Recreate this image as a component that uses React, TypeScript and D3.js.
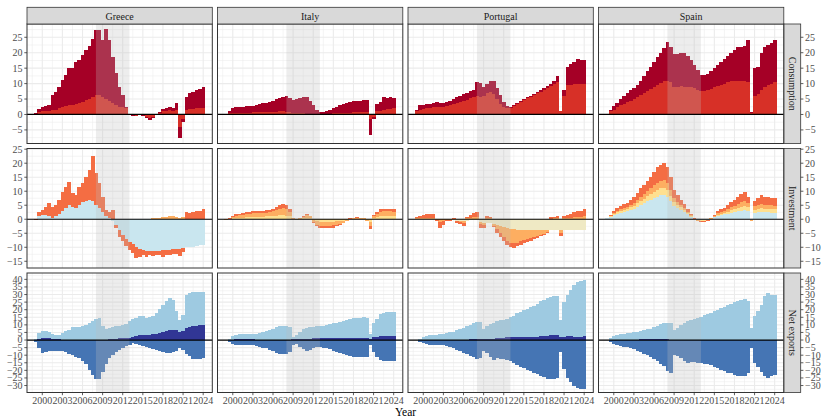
import * as d3 from "d3";

// half-year periods, 1999H1 .. 2024H1
const periods = d3.range(51).map((i) => 1999 + i * 0.5);
const countries = ["Greece", "Italy", "Portugal", "Spain"];
const facets = ["Consumption", "Investment", "Net exports"];
const yearTicks = [2000, 2003, 2006, 2009, 2012, 2015, 2018, 2021, 2024];
const recession = [2008, 2013];

// ---- consumption: total and the lower (red) component
const grcConsTotal = [0.5, 1.9, 2.5, 2.7, 3.2, 6.3, 7.4, 8.8, 11.1, 12.8, 14.9, 15.2, 17.1, 17.6, 19.3, 20.9, 22.3, 24.4, 27.2, 27.2, 24, 27.6, 24.1, 18.7, 13.3, 9, 6.3, 2.5, 0, -0.5, -0.6, -0.3, -0.5, -1.2, -1.8, -1.2, 0.3, 0.8, 1.8, 2.2, 2.5, 2.2, 3.6, -7.5, -2.5, 5.5, 7, 7.2, 7.8, 8.3, 9];
const grcConsRed = [0.3, 0.8, 1, 1, 1.2, 1.4, 1.6, 2, 2.3, 2.7, 3, 3.1, 3.5, 3.8, 4.2, 4.6, 5, 5.6, 6.3, 6.2, 5.6, 5, 4.5, 3.8, 3, 2.5, 2.3, 2, 0.3, -0.3, -0.4, -0.2, -0.3, -0.8, -1.2, -0.8, 0.2, 0.5, 1, 1.2, 1.3, 1.2, 1.5, -4, -1.5, 1.5, 1.8, 1.8, 2, 2.1, 2.2];
const itaConsTotal = [0.3, 1, 2, 2.3, 2.5, 2.5, 2.6, 2.8, 2.9, 3.2, 3.5, 3.6, 3.7, 4, 4.5, 5, 5.3, 5.8, 6, 5.3, 4.8, 5, 5.3, 5.6, 5.5, 4.5, 3, 1.5, 0.8, 0.8, 1, 1.5, 2, 2.5, 3, 3.5, 3.8, 4.1, 4.3, 4.4, 4.5, 4.6, 4.6, -6.5, -1.5, 3.5, 4, 5.5, 5.2, 5.5, 5.3];
const itaConsRed = [0.2, 0.4, 0.5, 0.6, 0.6, 0.6, 0.6, 0.6, 0.7, 0.7, 0.7, 0.7, 0.8, 0.8, 0.8, 0.9, 1, 1, 0.9, 0.8, 0.6, 0.6, 0.6, 0.5, 0.3, 0.2, 0.1, 0.1, 0.2, 0.2, 0.3, 0.3, 0.4, 0.4, 0.5, 0.5, 0.6, 0.6, 0.7, 0.7, 0.8, 0.8, 0.8, -1.5, -0.8, 1, 1.2, 1.5, 1.8, 1.9, 2];
const prtConsTotal = [1.5, 3, 3.2, 3.3, 3.5, 3.8, 4, 3.8, 3.8, 4, 4.5, 5, 5.5, 5.9, 6.5, 7, 7.5, 8, 10.5, 10.2, 8.8, 10, 11, 10.8, 8.5, 6.3, 4, 2.7, 2.3, 3, 3.8, 4.5, 5, 5.5, 6, 6.5, 7.2, 7.8, 8.5, 9.3, 10, 11, 12.5, 1, 8, 15.5, 16.5, 17, 18, 17.8, 17.8];
const prtConsRed = [1, 1.5, 1.7, 2, 2.2, 2.3, 2.4, 2.4, 2.5, 2.7, 3, 3.3, 3.6, 4, 4.4, 4.8, 5.3, 5.8, 6, 5.8, 6, 6.8, 7.3, 6.5, 5, 3.5, 2.5, 2, 2, 2.8, 3.5, 4.2, 4.7, 5.2, 5.7, 6.2, 6.8, 7.3, 8, 8.6, 9.2, 10, 10.5, 1, 6, 9.5, 9.7, 9.8, 10, 10, 10];
const espConsTotal = [0.3, 1.5, 2.8, 3.8, 5, 6, 7, 7.8, 8.5, 9.5, 11, 12.5, 14, 15.5, 17, 18.5, 20, 21.5, 23.5, 22, 19.5, 19.5, 20, 20, 19, 17.5, 16, 14.5, 12.8, 12.7, 13.2, 14, 15, 16, 17, 18, 19, 20, 21, 21.8, 22, 22.2, 24, 0.8, 15, 15.5, 20, 22, 22.5, 23, 24];
const espConsRed = [0.2, 1, 1.6, 2.3, 3, 3.5, 4, 4.5, 5, 5.5, 6.2, 6.8, 7.5, 8.2, 9, 9.6, 10.2, 10.8, 11, 10.5, 9, 8.8, 9.2, 9, 9, 8.8, 8.5, 8, 7.5, 7.6, 8, 8.4, 8.8, 9.2, 9.6, 10, 10.4, 10.8, 11, 11, 10.8, 10.8, 10.5, 0.5, 6, 6.5, 8, 9, 9.5, 10, 10.5];

// ---- investment components (light blue, beige, yellow, light orange, orange)
const grcInv1 = [0, 1, 1.5, 1.5, 1, 0.5, 1, 2, 3, 4, 5, 4.5, 4, 5, 6, 6.5, 7, 6.5, 5, 4, 2.5, 1, 0.3, -0.5, -2, -4, -5.5, -7, -8, -9, -10, -10.5, -11, -11.2, -11.3, -11.3, -11.3, -11.2, -11, -10.8, -10.8, -10.5, -10.5, -10.5, -10.2, -10, -10, -9.8, -9.5, -9.3, -9.3];
const grcInvB: number[] = [];
const grcInv2: number[] = [];
const grcInv3 = [0, 0, 0, 0, 0, 0, 0, 0, 0, 0, 0, 0, 0, 0, 0, 0, 0, 0, 0, 0, 0, 0, 0, 0, 0, 0, 0, 0, 0, 0, 0, 0, 0, 0, 0, 0.3, 0.5, 0.6, 0.7, 0.8, 1, 1, 0.8, 0.5, 0.8, 0, 0, 0, 0, 0, 0];
const grcInv4 = [-0.3, 1.7, 1.8, 3, 4.7, 4, 4.1, 4.9, 6.8, 7.6, 8.4, 4.7, 4.6, 6.6, 6.8, 8.7, 10.5, 16, 11.4, 8.8, 5.6, 2.3, 2.4, 3.2, -1.2, -2.2, -2.4, -2.7, -2.9, -3.1, -3.9, -2.8, -1.7, -2.1, -1.4, -1.7, -1.4, -1.5, -2.3, -1.9, -1.8, -2, -2, -2.5, -1.5, 2.5, 2.3, 2.5, 2.8, 3, 3.5];
const itaInv1: number[] = [];
const itaInvB: number[] = [];
const itaInv2 = [0, 0.1, 0.3, 0.5, 0.6, 0.6, 0.7, 0.8, 0.9, 0.9, 0.9, 0.9, 1, 1, 1.1, 1.2, 1.4, 1.4, 1.3, 1, 0.2, -0.1, 0.2, 0.4, 0.6, 0.4, -0.4, -0.7, -0.9, -1, -1, -1, -0.9, -0.8, -0.7, -0.5, -0.3, 0.1, 0.2, 0.2, 0.2, 0.2, -0.3, -1, 0.5, 0.9, 1.2, 1.3, 1.3, 1.3, 1.3];
const itaInv3 = [-0.2, 0.1, 0.4, 0.8, 0.8, 0.9, 1.1, 1.2, 1.4, 1.3, 1.4, 1.3, 1.4, 1.5, 1.7, 2, 2.4, 2.5, 2.5, 1.7, 0.2, -0.1, 0.3, 0.5, 0.9, 0.6, -0.7, -1.2, -1.4, -1.4, -1.3, -1.4, -1.3, -1.1, -0.9, -0.7, -0.3, 0.1, 0.2, 0.3, 0.2, 0.2, -0.3, -1.5, 0.6, 1, 1.4, 1.6, 1.5, 1.5, 1.4];
const itaInv4 = [-0.1, 0.1, 0.3, 0.5, 0.6, 0.7, 0.7, 0.7, 0.8, 0.8, 0.8, 0.8, 0.9, 0.9, 1, 1.2, 1.4, 1.4, 1.4, 0.8, 0.1, -0.1, 0.1, 0.3, 0.5, 0.3, -0.4, -0.6, -0.8, -0.8, -0.7, -0.8, -0.8, -0.6, -0.4, -0.3, -0.2, 0.1, 0.1, 0.2, 0.2, 0.1, -0.2, -1, 0.4, 0.6, 0.9, 0.9, 0.9, 0.8, 0.8];
const prtInv1: number[] = [];
const prtInvB = [0, 0, 0, 0, 0, 0, 0, 0, 0, 0, 0, -0.3, -0.5, -0.6, -0.6, -0.5, -0.3, -0.2, -0.2, -1, -1.3, -1.3, -1.5, -1.8, -2, -2.5, -2.8, -3.1, -3.4, -3.6, -3.8, -3.9, -4, -4, -4, -4, -4, -4, -4, -4, -3.9, -3.9, -3.9, -3.8, -3.8, -3.8, -3.8, -3.8, -3.8, -3.8, -3.8];
const prtInv2: number[] = [];
const prtInv3 = [0.3, 0.5, 0.5, 0.5, 0.6, 0.6, -0.3, -1, -0.7, -0.3, -0.3, 0.1, -0.3, -0.4, -0.6, 0.3, 0.5, 0.7, 0.9, -0.8, -0.7, 0.4, 0.3, -0.5, -1.5, -2.5, -3.5, -4.5, -5, -5, -4.5, -4, -3.5, -3.2, -2.8, -2.4, -2, -1.5, -1.1, -0.6, 0.2, 0.3, 0.3, -1, 0.4, 0.5, 0.6, 0.7, 0.8, 0.8, 1];
const prtInv4 = [0.5, 0.8, 1, 1.3, 1.3, 1.2, -0.5, -2.2, -1.3, -0.5, -0.5, 0.3, -0.6, -0.8, -1.2, 0.6, 1, 1.5, 1.8, -1.5, -1.3, 0.8, 0.6, -0.6, -1.5, -1.5, -1.5, -1.5, -1.6, -1.5, -1.3, -1.2, -1, -0.9, -0.8, -0.7, -0.6, -0.5, -0.4, -0.2, 0.5, 0.6, 0.7, -1.2, 0.8, 1, 1.3, 1.8, 2, 2, 2.5];
const espInv1 = [0.3, 0.8, 1.5, 2, 2.4, 2.6, 2.9, 3.3, 3.8, 4.5, 5.2, 5.8, 6.4, 7, 7.6, 8.1, 8.5, 8.5, 8, 6.5, 4.8, 4, 3.3, 2.6, 1.7, 0.9, 0.1, -0.3, -0.4, -0.4, -0.2, 0.2, 0.7, 1.2, 1.5, 1.7, 2, 2.3, 2.6, 2.9, 3.1, 3.3, 3, -0.2, 2.4, 2.5, 2.7, 2.5, 2.5, 2.4, 2.4];
const espInvB: number[] = [];
const espInv2 = [0.1, 0.2, 0.4, 0.5, 0.6, 0.7, 0.7, 0.9, 1, 1.2, 1.4, 1.6, 1.8, 2, 2.2, 2.4, 2.5, 2.5, 2.3, 1.9, 1.4, 1.1, 0.9, 0.7, 0.5, 0.3, 0.1, -0.1, -0.2, -0.2, -0.1, 0.05, 0.2, 0.4, 0.5, 0.6, 0.7, 0.9, 1, 1.2, 1.3, 1.4, 1.2, -0.2, 1, 1.1, 1.3, 1.2, 1.2, 1.2, 1.1];
const espInv3 = [0.05, 0.2, 0.4, 0.5, 0.6, 0.7, 0.8, 0.9, 1.1, 1.3, 1.5, 1.7, 1.9, 2.1, 2.4, 2.6, 2.8, 2.9, 2.7, 2.2, 1.5, 1.2, 1, 0.8, 0.5, 0.3, 0.05, -0.05, -0.2, -0.2, -0.1, 0.05, 0.3, 0.5, 0.6, 0.7, 0.9, 1.1, 1.3, 1.5, 1.7, 1.8, 1.5, -0.2, 1.2, 1.4, 1.6, 1.5, 1.5, 1.4, 1.4];
const espInv4 = [0.05, 0.3, 0.7, 1, 1.2, 1.3, 1.4, 1.7, 2.1, 2.5, 2.9, 3.2, 3.6, 4.1, 4.8, 5.4, 5.7, 6.1, 5.5, 4.4, 2.8, 2.2, 1.8, 1.4, 0.8, 0.3, 0.05, -0.05, -0.1, -0.2, -0.1, 0, 0.3, 0.7, 0.9, 1, 1.4, 1.7, 2.1, 2.4, 2.9, 3.1, 2.3, -0.2, 1.9, 2.5, 3.2, 2.8, 2.8, 2.7, 2.6];

// ---- net exports: exports (+), imports (-), net
const grcExp = [1, 4.6, 6.2, 5.7, 5, 4, 3.5, 3.5, 4.6, 5.7, 6.8, 8.4, 8.4, 8.4, 9, 10, 11.2, 12.7, 13.8, 14.5, 9, 7.5, 8, 8.4, 9, 9.5, 10, 10.5, 12.3, 13.8, 14.5, 15.6, 15.6, 14.5, 15, 15.6, 17.8, 20.4, 23.3, 26, 27.7, 26.6, 19, 13.4, 16.7, 30, 31, 32, 32, 31.6, 31.6];
const grcImp = [-1, -5, -8.5, -8, -7.5, -7.5, -7, -7, -7.5, -8, -9, -10, -11, -12, -14, -16, -19.5, -23, -26, -26, -21, -15.5, -12, -10, -8, -6.4, -5, -4.2, -3, -2, -2.5, -3.5, -4.2, -4.8, -5.3, -6, -6.5, -7.5, -8, -8.6, -8.8, -8, -7, -5.3, -6.4, -9.2, -10.8, -12.3, -12.3, -12.5, -12];
const grcNet = [0.3, 1, 1.5, 1.5, 1.3, 1, 0.8, 0.5, 0, 0, 0, 0, 0, 0, 0, 0, 0, 0, 0, 0, 0, 0.3, 0.5, 0.8, 1, 1.3, 1.5, 1.5, 1.2, 1.8, 2.5, 3, 3, 3.3, 3.6, 4, 4.3, 4.8, 5.3, 5.8, 6.3, 6.5, 6.3, 5.5, 5.8, 8, 8.8, 9.2, 9.5, 9.8, 10];
const itaExp = [0.3, 1, 2.5, 3.5, 4, 4.2, 4, 3.8, 3.8, 4.2, 4.6, 5.3, 5.7, 6.5, 7.5, 8.8, 9.5, 9.5, 9.2, 8.5, 2, 3.5, 5.5, 7, 8, 8.5, 8.8, 9, 9.2, 9.5, 10, 10.5, 11, 11.5, 12, 12.5, 13.2, 13.8, 14.2, 14.5, 14.8, 15, 14.5, 4, 11, 14, 17, 18, 18.5, 18.5, 18.5];
const itaImp = [-0.3, -1.2, -2.5, -3.2, -3, -3, -3, -3.3, -3.5, -4, -4.4, -5, -5.5, -6.5, -7.5, -8.5, -9.2, -9.2, -9, -8, -3.5, -2.5, -4.5, -6, -7, -6.5, -5, -4.5, -4.5, -5, -5.5, -6.2, -7, -7.7, -8.3, -9, -9.8, -10.5, -11, -11.5, -11.5, -11.3, -11, -3, -8, -11, -13, -14, -14, -13.5, -13.5];
const itaNet = [0, 0, 0.3, 0.5, 0.8, 1, 1, 0.8, 0.5, 0.3, 0.3, 0.3, 0.2, 0.2, 0.3, 0.3, 0.3, 0.3, 0.2, 0.3, 0.5, 0.8, 0.8, 0.8, 0.8, 1, 1.2, 1.3, 1.3, 1.2, 1.2, 1.2, 1.3, 1.3, 1.3, 1.3, 1.4, 1.4, 1.5, 1.5, 1.6, 1.6, 1.6, 1, 2, 2.2, 2.5, 2.6, 2.6, 2.5, 2.5];
const prtExp = [0.2, 1, 2, 2.6, 3, 3.2, 3.5, 3.7, 4, 4.5, 5, 5.5, 6.5, 7, 8, 9, 10, 11, 12, 12, 7.5, 9, 10.5, 11.5, 12.5, 13, 13.5, 14, 15, 16, 17.5, 18.5, 19.5, 20.5, 21.5, 22.5, 24, 25.5, 26.5, 27.5, 28.5, 29, 29, 13, 25, 30, 33, 36, 38, 39, 39.5];
const prtImp = [-0.3, -1, -2, -2.5, -3, -3, -3.2, -3.3, -3.5, -4, -4.5, -5.5, -6.5, -7.5, -8.5, -9.5, -10.5, -11.5, -12.5, -12, -7, -8.5, -11.5, -13, -12, -12.5, -12.5, -13, -14, -15, -16.5, -17.5, -18.5, -19.5, -20.5, -21.5, -22.5, -23.5, -24.5, -25.5, -26, -26, -25, -8, -19, -25, -28, -30, -31.5, -32, -32.5];
const prtNet = [0, 0, 0, 0.1, 0.2, 0.2, 0.3, 0.3, 0.3, 0.3, 0.3, 0.3, 0.3, 0.3, 0.3, 0.3, 0.4, 0.5, 0.5, 0.8, 0.8, 0.8, 0.8, 1, 1.2, 1.5, 1.6, 1.7, 1.8, 2, 2, 2, 2.1, 2.1, 2.2, 2.3, 2.3, 2.4, 2.5, 2.7, 3.2, 3.5, 3.3, 2, 2.3, 2.5, 2.4, 2.2, 2.3, 2.3, 2.4];
const espExp = [0.3, 1.3, 2.5, 3.5, 4, 4.2, 4.5, 4.6, 5, 5.5, 6, 6.5, 7, 7.5, 8.5, 9.5, 10.5, 11.3, 11.5, 11.5, 6.5, 8, 10, 11.5, 12.5, 13.3, 14, 14.8, 15.5, 16.3, 17, 18, 19, 20, 21, 22, 23, 24, 25, 25.8, 26.5, 27, 26, 8, 16, 19, 23, 29, 31, 30, 29.5];
const espImp = [-0.3, -1.3, -2.5, -3.5, -4, -4.3, -4.8, -5.3, -6, -7, -8, -9, -10, -11, -12.5, -14, -15.5, -17, -20.5, -22, -10, -10.5, -12, -14, -15, -14.5, -14.5, -15, -15, -15.5, -16, -16.5, -17.5, -18.5, -19.5, -20.5, -21.5, -22, -23, -23.5, -23.5, -23.5, -22, -5, -15, -18, -21, -24, -25, -24, -23];
const espNet = [0, 0, 0, 0, 0, 0, 0, 0, 0.2, 0.3, 0.4, 0.5, 0.5, 0.5, 0.5, 0.5, 0.5, 0.5, 0.4, 0.3, 0, 0, 0, 0, 0, 0, 0, 0, 0, 0, 0, 0, 0, 0, 0, 0, 0, 0, 0, 0, 0, 0, 0, 0, 0, 0, 0, 0, 0, 0, 0];

const consData = [
  [grcConsRed, grcConsTotal],
  [itaConsRed, itaConsTotal],
  [prtConsRed, prtConsTotal],
  [espConsRed, espConsTotal],
];
const invData = [
  [grcInv1, grcInvB, grcInv2, grcInv3, grcInv4],
  [itaInv1, itaInvB, itaInv2, itaInv3, itaInv4],
  [prtInv1, prtInvB, prtInv2, prtInv3, prtInv4],
  [espInv1, espInvB, espInv2, espInv3, espInv4],
];
const nxData = [
  [grcExp, grcImp, grcNet],
  [itaExp, itaImp, itaNet],
  [prtExp, prtImp, prtNet],
  [espExp, espImp, espNet],
];

const consColors = ["#d73027", "#a50026"];
const invColors = ["#c9e6ef", "#efe9c4", "#fee090", "#fdae61", "#f46d43"];
const nxColors = ["#9ecae1", "#4575b4", "#313695"];

const rowDomains: [number, number][] = [
  [-9.4, 29.3],
  [-17.4, 25.25],
  [-34.6, 44.2],
];
const rowTicks = [d3.range(-5, 26, 5), d3.range(-15, 26, 5), d3.range(-30, 41, 5)];

const FONT = "'Liberation Serif', 'Times New Roman', serif";
const PX0 = 27;
const PW = 185.3;
const PGAP = 5.2;
const STRIP_TOP = 7.3;
const ROW0 = 24;
const RH = 119.5;
const RGAP = 5;
const RSTRIP_X = 784;
const RSTRIP_W = 16.7;

const x = d3.scaleLinear().domain([1997.72, 2025.36]).range([0, PW]);

type Layer = { color: string; values: number[] };

function stackedRects(layers: Layer[], y: d3.ScaleLinear<number, number>) {
  const keys = layers.map((_, k) => "k" + k);
  const rows = periods.map((_, i) => {
    const r: Record<string, number> = {};
    layers.forEach((l, k) => (r["k" + k] = l.values[i] ?? 0));
    return r;
  });
  const series = d3
    .stack<Record<string, number>>()
    .keys(keys)
    .offset(d3.stackOffsetDiverging)(rows);
  const out: JSX.Element[] = [];
  series.forEach((s, k) => {
    s.forEach((d, i) => {
      const t = periods[i];
      const y0 = y(d[0]);
      const y1 = y(d[1]);
      const h = Math.abs(y0 - y1);
      if (h < 0.05) return;
      const x0 = x(t - 0.25);
      out.push(
        <rect
          key={`s${k}-${i}`}
          x={x0}
          y={Math.min(y0, y1)}
          width={x(t + 0.25) - x0 + 0.4}
          height={h}
          fill={layers[k].color}
        />
      );
    });
  });
  return out;
}

function Panel({ row, col }: { row: number; col: number }) {
  const left = PX0 + col * (PW + PGAP);
  const top = ROW0 + row * (RH + RGAP);
  const y = d3.scaleLinear().domain(rowDomains[row]).range([RH, 0]);
  const ticks = rowTicks[row];
  const minorY = ticks
    .map((t) => t + 2.5)
    .concat([ticks[0] - 2.5])
    .filter((v) => v > rowDomains[row][0] && v < rowDomains[row][1]);
  const minorX = yearTicks.map((t) => t - 1.5).filter((v) => v > 1997.72 && v < 2025.36);

  let bars: JSX.Element[] = [];
  if (row === 0) {
    const [red, total] = consData[col];
    bars = stackedRects(
      [
        { color: consColors[0], values: red },
        { color: consColors[1], values: total.map((v, i) => v - red[i]) },
      ],
      y
    );
  } else if (row === 1) {
    bars = stackedRects(
      invData[col].map((v, k) => ({ color: invColors[k], values: v })),
      y
    );
  } else {
    const [ex, im, net] = nxData[col];
    bars = stackedRects(
      [
        { color: nxColors[0], values: ex },
        { color: nxColors[1], values: im },
      ],
      y
    );
    net.forEach((v, i) => {
      if (Math.abs(v) < 0.05) return;
      const t = periods[i];
      const x0 = x(t - 0.25);
      bars.push(
        <rect
          key={`net-${i}`}
          x={x0}
          y={Math.min(y(0), y(v))}
          width={x(t + 0.25) - x0 + 0.4}
          height={Math.abs(y(v) - y(0))}
          fill={nxColors[2]}
        />
      );
    });
  }

  const clipId = `clip-${row}-${col}`;
  return (
    <g transform={`translate(${left},${top})`}>
      <defs>
        <clipPath id={clipId}>
          <rect x={0} y={0} width={PW} height={RH} />
        </clipPath>
      </defs>
      <rect x={0} y={0} width={PW} height={RH} fill="#ffffff" />
      <g stroke="#ebebeb" strokeWidth={0.55}>
        {minorY.map((v) => (
          <line key={"my" + v} x1={0} x2={PW} y1={y(v)} y2={y(v)} />
        ))}
        {minorX.map((v) => (
          <line key={"mx" + v} x1={x(v)} x2={x(v)} y1={0} y2={RH} />
        ))}
      </g>
      <g stroke="#ebebeb" strokeWidth={1.1}>
        {ticks.map((v) => (
          <line key={"y" + v} x1={0} x2={PW} y1={y(v)} y2={y(v)} />
        ))}
        {yearTicks.map((v) => (
          <line key={"x" + v} x1={x(v)} x2={x(v)} y1={0} y2={RH} />
        ))}
      </g>
      <g clipPath={`url(#${clipId})`} shapeRendering="crispEdges">
        {bars}
      </g>
      <rect
        x={x(recession[0])}
        y={0}
        width={x(recession[1]) - x(recession[0])}
        height={RH}
        fill="#bebebe"
        fillOpacity={0.27}
      />
      <line x1={0} x2={PW} y1={y(0)} y2={y(0)} stroke="#000000" strokeWidth={1.2} />
      <rect x={0} y={0} width={PW} height={RH} fill="none" stroke="#333333" strokeWidth={1} />
    </g>
  );
}

function fmt(v: number) {
  return v < 0 ? "\u2212" + Math.abs(v) : String(v);
}

export default function App() {
  const rowsIdx = [0, 1, 2];
  const colsIdx = [0, 1, 2, 3];
  const bottom = ROW0 + 3 * RH + 2 * RGAP;
  return (
    <svg
      width={825}
      height={418}
      style={{ position: "absolute", left: 0, top: 0, background: "#ffffff" }}
      fontFamily={FONT}
    >
      <rect x={0} y={0} width={825} height={418} fill="#ffffff" />
      {rowsIdx.map((r) => colsIdx.map((c) => <Panel key={`${r}-${c}`} row={r} col={c} />))}

      {/* top strips */}
      {countries.map((name, c) => {
        const left = PX0 + c * (PW + PGAP);
        return (
          <g key={name}>
            <rect x={left} y={STRIP_TOP} width={PW} height={ROW0 - STRIP_TOP} fill="#d9d9d9" stroke="#333333" strokeWidth={0.8} />
            <text x={left + PW / 2} y={19.6} textAnchor="middle" fontSize={10} fill="#1a1a1a">
              {name}
            </text>
          </g>
        );
      })}

      {/* right strips and both y axes */}
      {facets.map((name, r) => {
        const top = ROW0 + r * (RH + RGAP);
        const y = d3.scaleLinear().domain(rowDomains[r]).range([top + RH, top]);
        return (
          <g key={name}>
            <rect x={RSTRIP_X} y={top} width={RSTRIP_W} height={RH} fill="#d9d9d9" stroke="#333333" strokeWidth={0.8} />
            <text
              transform={`translate(${RSTRIP_X + RSTRIP_W / 2},${top + RH / 2}) rotate(90)`}
              textAnchor="middle"
              dominantBaseline="central"
              fontSize={10}
              fill="#1a1a1a"
            >
              {name}
            </text>
            {rowTicks[r].map((v) => (
              <g key={v}>
                <line x1={24.3} x2={PX0} y1={y(v)} y2={y(v)} stroke="#333333" strokeWidth={0.8} />
                <text x={22.6} y={y(v)} dy="0.34em" textAnchor="end" fontSize={10} fill="#4d4d4d">
                  {fmt(v)}
                </text>
                <line x1={RSTRIP_X + RSTRIP_W} x2={RSTRIP_X + RSTRIP_W + 2.7} y1={y(v)} y2={y(v)} stroke="#333333" strokeWidth={0.8} />
                <text x={RSTRIP_X + RSTRIP_W + 4.3} y={y(v)} dy="0.34em" textAnchor="start" fontSize={10} fill="#4d4d4d">
                  {fmt(v)}
                </text>
              </g>
            ))}
          </g>
        );
      })}

      {/* bottom axes */}
      {colsIdx.map((c) => {
        const left = PX0 + c * (PW + PGAP);
        return (
          <g key={"bx" + c}>
            {yearTicks.map((t) => (
              <g key={t}>
                <line x1={left + x(t)} x2={left + x(t)} y1={bottom} y2={bottom + 2.7} stroke="#333333" strokeWidth={0.8} />
                <text x={left + x(t)} y={bottom + 11.8} textAnchor="middle" fontSize={10} fill="#4d4d4d">
                  {t}
                </text>
              </g>
            ))}
          </g>
        );
      })}

      <text x={405.5} y={415.5} textAnchor="middle" fontSize={11.5} fill="#000000">
        Year
      </text>
    </svg>
  );
}
